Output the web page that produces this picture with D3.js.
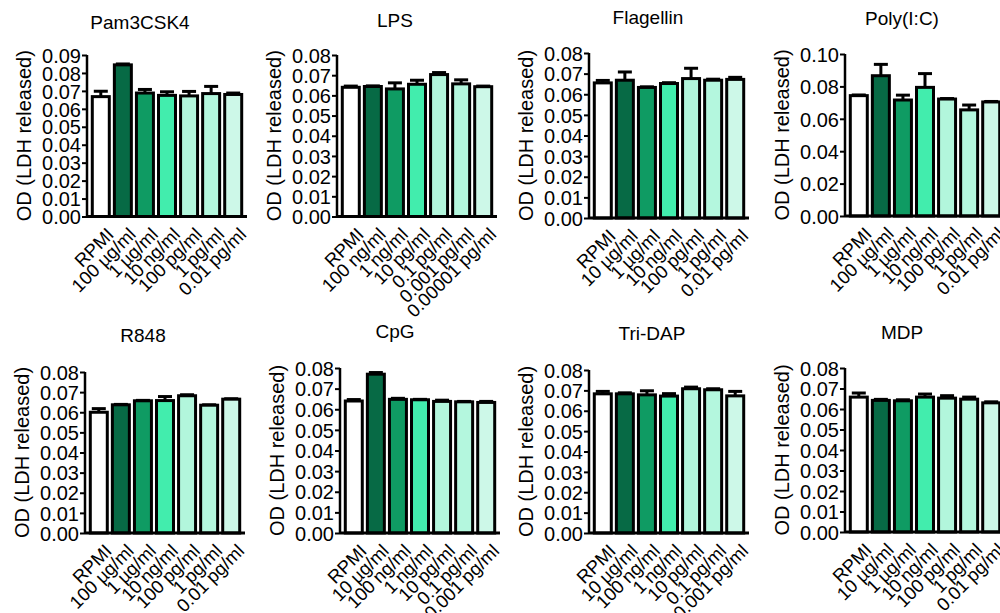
<!DOCTYPE html>
<html><head><meta charset="utf-8">
<script src="https://cdn.jsdelivr.net/npm/d3@7"></script>
<style>
body{margin:0;background:#fff;}
svg{display:block;}
text{font-family:"Liberation Sans",Arial,sans-serif;fill:#000;}
</style></head><body>
<svg id="chart" width="1000" height="613"></svg>
<script>
// ---- data ----
const titles = ["Pam3CSK4","LPS","Flagellin","Poly(I:C)","R848","CpG","Tri-DAP","MDP"];
const catsPam3 = ["RPMI","100 µg/ml","1 µg/ml","10 ng/ml","100 pg/ml","1 pg/ml","0.01 pg/ml"];
const catsLPS = ["RPMI","100 ng/ml","1 ng/ml","10 pg/ml","0.1 pg/ml","0.001 pg/ml","0.00001 pg/ml"];
const catsFla = ["RPMI","10 µg/ml","1 µg/ml","10 ng/ml","100 pg/ml","1 pg/ml","0.01 pg/ml"];
const catsPoly = ["RPMI","100 µg/ml","1 µg/ml","10 ng/ml","100 pg/ml","1 pg/ml","0.01 pg/ml"];
const catsR848 = ["RPMI","100 µg/ml","1 µg/ml","10 ng/ml","100 pg/ml","1 pg/ml","0.01 pg/ml"];
const catsCpG = ["RPMI","10 µg/ml","100 ng/ml","1 ng/ml","10 pg/ml","0.1 pg/ml","0.001 pg/ml"];
const catsTriDAP = ["RPMI","10 µg/ml","100 ng/ml","1 ng/ml","10 pg/ml","0.1 pg/ml","0.001 pg/ml"];
const catsMDP = ["RPMI","10 µg/ml","1 µg/ml","10 ng/ml","100 pg/ml","1 pg/ml","0.01 pg/ml"];

const valPam3 = [0.0668,0.0845,0.0688,0.0675,0.0672,0.0685,0.0680];
const errPam3 = [0.0030,0.0005,0.0020,0.0020,0.0025,0.0040,0.0008];
const valLPS = [0.0640,0.0644,0.0632,0.0655,0.0703,0.0657,0.0643];
const errLPS = [0.0006,0.0003,0.0030,0.0020,0.0010,0.0020,0.0003];
const valFla = [0.0655,0.0668,0.0633,0.0652,0.0676,0.0668,0.0672];
const errFla = [0.0012,0.0040,0.0003,0.0004,0.0050,0.0005,0.0010];
const valPoly = [0.0743,0.0866,0.0716,0.0794,0.0722,0.0655,0.0704];
const errPoly = [0.0004,0.0070,0.0030,0.0085,0.0003,0.0030,0.0003];
const valR848 = [0.0600,0.0637,0.0657,0.0658,0.0682,0.0635,0.0665];
const errR848 = [0.0018,0.0002,0.0002,0.0020,0.0005,0.0002,0.0002];
const valCpG = [0.0640,0.0770,0.0648,0.0646,0.0638,0.0636,0.0633];
const errCpG = [0.0007,0.0008,0.0005,0.0002,0.0006,0.0002,0.0005];
const valTriDAP = [0.0683,0.0683,0.0678,0.0672,0.0708,0.0703,0.0673];
const errTriDAP = [0.0012,0.0005,0.0020,0.0012,0.0008,0.0005,0.0022];
const valMDP = [0.0658,0.0642,0.0640,0.0658,0.0653,0.0648,0.0630];
const errMDP = [0.0020,0.0005,0.0005,0.0015,0.0012,0.0010,0.0005];

const yMaxes = [0.09,0.08,0.08,0.10,0.08,0.08,0.08,0.08];
const yTickSteps = [0.01,0.01,0.01,0.02,0.01,0.01,0.01,0.01];
const yLabel = "OD (LDH released)";
const barColors = ["#ffffff","#076a45","#0f9b63","#42edad","#b2f6dc","#b4f7de","#cdf8e8"];

const panelCats = [catsPam3,catsLPS,catsFla,catsPoly,catsR848,catsCpG,catsTriDAP,catsMDP];
const panelVals = [valPam3,valLPS,valFla,valPoly,valR848,valCpG,valTriDAP,valMDP];
const panelErrs = [errPam3,errLPS,errFla,errPoly,errR848,errCpG,errTriDAP,errMDP];

// ---- layout (pixel geometry) ----
const layout = [
  {ax:87, top:55, base:216.5, tx:140, ty:29},
  {ax:337, top:55, base:216.5, tx:395, ty:27},
  {ax:589, top:53, base:218, tx:648, ty:24},
  {ax:845, top:54, base:216, tx:902, ty:25},
  {ax:85, top:372, base:533, tx:143, ty:342},
  {ax:340, top:368, base:533, tx:395, ty:338},
  {ax:589, top:370, base:533, tx:652, ty:340},
  {ax:845, top:368, base:532, tx:902, ty:339}
];
const plotW = 160;

const svg = d3.select("#chart");

titles.forEach((title, i) => {
  const L = layout[i];
  const g = svg.append("g");
  const x = d3.scaleBand().domain(panelCats[i]).range([L.ax, L.ax + plotW])
      .paddingInner(0.23).paddingOuter(0.24);
  const y = d3.scaleLinear().domain([0, yMaxes[i]]).range([L.base, L.top]);
  const ticks = d3.range(0, yMaxes[i] + 1e-9, yTickSteps[i]);

  // title
  g.append("text").attr("x", L.tx).attr("y", L.ty).attr("text-anchor","middle")
    .style("font-size","19px").text(title);

  const data = panelCats[i].map((c, k) => ({c, v: panelVals[i][k], e: panelErrs[i][k], k}));
  // error bars (upper only)
  const eg = g.append("g");
  eg.selectAll("line.err").data(data).join("line")
    .attr("x1", d => x(d.c) + x.bandwidth()/2).attr("x2", d => x(d.c) + x.bandwidth()/2)
    .attr("y1", d => y(d.v)).attr("y2", d => y(d.v + d.e))
    .attr("stroke","#000").attr("stroke-width",3);
  eg.selectAll("line.cap").data(data).join("line")
    .attr("x1", d => x(d.c) + x.bandwidth()/2 - 7).attr("x2", d => x(d.c) + x.bandwidth()/2 + 7)
    .attr("y1", d => y(d.v + d.e)).attr("y2", d => y(d.v + d.e))
    .attr("stroke","#000").attr("stroke-width",3);
  // bars
  g.append("g").selectAll("rect").data(data).join("rect")
    .attr("x", d => x(d.c)).attr("width", x.bandwidth())
    .attr("y", d => y(d.v)).attr("height", d => y(0) - y(d.v))
    .attr("fill", d => barColors[d.k]).attr("stroke","#000").attr("stroke-width",3);

  // y axis
  const ya = g.append("g").attr("transform", `translate(${L.ax},0)`)
    .call(d3.axisLeft(y).tickValues(ticks).tickFormat(d3.format(".2f")).tickSize(5).tickPadding(1));
  ya.attr("font-family",null).attr("font-size",null);
  ya.select(".domain").attr("stroke-width",2.5).attr("d", `M0,${L.top}V${L.base}`);
  ya.selectAll(".tick line").attr("stroke-width",2);
  ya.selectAll(".tick text").style("font-size","20px").attr("dy","0.36em");

  // x axis line
  g.append("line").attr("x1", L.ax).attr("x2", L.ax + plotW)
    .attr("y1", L.base).attr("y2", L.base).attr("stroke","#000").attr("stroke-width",3);

  // x labels
  g.append("g").selectAll("text").data(panelCats[i]).join("text")
    .attr("transform", d => `translate(${x(d) + x.bandwidth()/2 + 5},${L.base + 10}) rotate(-45)`)
    .attr("text-anchor","end").attr("dy","0.7em")
    .style("font-size","18.5px").text(d => d);

  // y label
  g.append("text")
    .attr("transform", `translate(${L.ax - 63},${(L.top + L.base)/2}) rotate(-90)`)
    .attr("text-anchor","middle").attr("dy","0.35em")
    .style("font-size","20px").text(yLabel);
});
</script>
</body></html>
